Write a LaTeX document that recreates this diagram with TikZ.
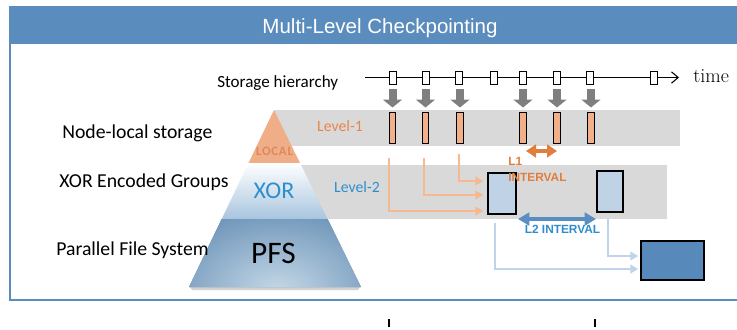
\documentclass[tikz,border=0pt]{standalone}
\usepackage{fontspec}
\usetikzlibrary{arrows.meta,calc}
\newfontfamily\carl{Carlito}
\newfontfamily\carlsp[LetterSpace=6]{Carlito}
\newfontfamily\lib{Liberation Sans}
\definecolor{hdrblue}{HTML}{5A8CBD}
\definecolor{bandgray}{HTML}{D9D9D9}
\definecolor{arrgray}{HTML}{7F7F7F}
\definecolor{barorange}{HTML}{F2B08A}
\definecolor{connorange}{HTML}{F5B890}
\definecolor{lvorange}{HTML}{E8864A}
\definecolor{l1orange}{HTML}{E07E3E}
\definecolor{localtxt}{HTML}{E0885A}
\definecolor{localfill}{HTML}{F0AE88}
\definecolor{lightblue}{HTML}{C0D3E6}
\definecolor{connblue}{HTML}{BFD4E8}
\definecolor{darkblue}{HTML}{5789BA}
\definecolor{l2blue}{HTML}{5A8DC0}
\definecolor{txtblue}{HTML}{2E8ECD}
\definecolor{xorbot}{HTML}{A8C5DE}
\definecolor{pfsin}{HTML}{C6D9E8}
\definecolor{pfsout}{HTML}{4F7DA8}
\begin{document}
\begin{tikzpicture}[x=0.75pt,y=-0.75pt,
  title/.style={text=white,font=\lib\fontsize{15.4}{18}\selectfont,inner sep=0pt},
  frame/.style={draw=hdrblue,line width=1.5pt},
  band/.style={fill=bandgray},
  lbl/.style={font=\carl\fontsize{14.8}{17}\selectfont,inner sep=0pt,anchor=base west},
  tbox/.style={draw=black,line width=0.6pt,fill=white,minimum width=5.25pt,minimum height=9.75pt,inner sep=0pt},
  tline/.style={draw=black,line width=0.8pt,-{Straight Barb[length=5pt,width=8.5pt]}},
  garrow/.style={draw=arrgray,line width=6pt,-{Triangle[length=6pt,width=14.25pt]}},
  obar/.style={draw=black,line width=0.7pt,fill=barorange,minimum width=4.9pt,minimum height=22.9pt,inner sep=0pt},
  brect/.style={draw=black,line width=1.1pt,fill=lightblue,inner sep=0pt},
  prect/.style={draw=black,line width=1.1pt,fill=darkblue,inner sep=0pt},
  oconn/.style={draw=connorange,line width=2pt,-{Triangle[length=6pt,width=6.5pt]}},
  bconn/.style={draw=connblue,line width=2pt,-{Triangle[length=6pt,width=6.5pt]}},
  l1arr/.style={draw=l1orange,line width=3.5pt,{Triangle[length=7.5pt,width=9.5pt]}-{Triangle[length=7.5pt,width=9.5pt]}},
  l2arr/.style={draw=l2blue,line width=3.5pt,{Triangle[length=8.5pt,width=9.5pt]}-{Triangle[length=8.5pt,width=9.5pt]}},
  ivtxt/.style={font=\lib\bfseries\fontsize{8.9}{12}\selectfont,inner sep=0pt}
]
\useasboundingbox (0,0) rectangle (737,329);
% frame and header
\fill[hdrblue] (9,6) rectangle (737,44);
\node[title] (title) at (380,28) {Multi-Level Checkpointing};
\draw[frame] (10,44) -- (10,300) -- (737,300);
% bottom ticks
\draw[black,line width=0.8pt] (389,319) -- (389,327);
\draw[black,line width=0.8pt] (595,319) -- (595,327);

% gray bands
\fill[band] (274,110) rectangle (680,146);
\fill[band] (295,165) rectangle (667,219);

% pyramid
\fill[black!18] (190,287) -- (360,287) -- (358,290) -- (192,290) -- cycle;
\fill[localfill] (274,110) -- (300,163) -- (248.5,163) -- cycle;
\shade[top color=white,bottom color=xorbot] (248.5,163) -- (300,163) -- (327.6,219) -- (221.7,219) -- cycle;
\begin{scope}
  \clip (221.7,219) -- (327.6,219) -- (361,287) -- (189,287) -- cycle;
  \fill[pfsout] (180,215) rectangle (370,292);
  \shade[inner color=pfsin,outer color=pfsout] (277,292) ellipse [x radius=120pt,y radius=85pt];
\end{scope}
\node[font=\carlsp\bfseries\fontsize{9.6}{11}\selectfont,text=localtxt,inner sep=0pt] (local) at (274.5,151.5) {LOCAL};
\node[font=\carl\fontsize{18}{20}\selectfont,text=txtblue,inner sep=0pt] (xor) at (274,191) {XOR};
\node[font=\carl\fontsize{23.5}{26}\selectfont,text=black,inner sep=0pt] (pfs) at (273.5,253) {PFS};

% left labels
\node[lbl,font=\carl\fontsize{12.8}{15}\selectfont] (sh) at (217,87) {Storage hierarchy};
\node[lbl] (nl) at (62,138) {Node-local storage};
\node[lbl] (xg) at (59,187) {XOR Encoded Groups};
\node[lbl] (pf) at (56,255) {Parallel File System};

% level labels
\node[font=\carl\fontsize{11.8}{14}\selectfont,text=lvorange,inner sep=0pt] (lv1) at (340,126) {Level-1};
\node[font=\carl\fontsize{11.8}{14}\selectfont,text=txtblue,inner sep=0pt] (lv2) at (357,187) {Level-2};

% timeline
\coordinate (tl0) at (365,77.5);
\coordinate (tlend) at (679,77.5);
\draw[tline] (tl0) -- (tlend);
\foreach \i/\x in {1/393,2/426,3/459,4/494,5/523,6/557,7/590,8/654}
  \node[tbox] (t\i) at (\x,77.5) {};
\node[font=\fontsize{15}{18}\selectfont,inner sep=0pt,anchor=base west] (time) at (693,82) {time};

% gray arrows and level-1 bars
\foreach \i/\x in {1/392.5,2/425.5,3/460,4/523,5/557,6/591}{
  \coordinate (ga\i) at (\x,89);
  \coordinate (gb\i) at (\x,107.5);
  \draw[garrow] (ga\i) -- (gb\i);
  \node[obar] (b\i) at (\x,128) {};
}

% level-2 rects
\node[brect,minimum width=21pt,minimum height=30.75pt] (r1) at (502,193.5) {};
\node[brect,minimum width=19.5pt,minimum height=30.75pt] (r2) at (610,191.5) {};
% PFS rect
\node[prect,minimum width=47.25pt,minimum height=29.25pt] (pr) at (672.5,260.5) {};

% L1 interval
\coordinate (l1a) at (526,151);
\coordinate (l1b) at (557,151);
\draw[l1arr] (l1a) -- (l1b);
\node[ivtxt,text=l1orange,align=left,anchor=north west] (l1t) at (508,157) {L1\\INTERVAL};

% orange connectors
\coordinate (o1) at (389,158);
\coordinate (o2) at (424,158);
\coordinate (o3) at (459,154);
\draw[oconn] (o1) |- ($(r1.west)+(-4,17.5)$);
\draw[oconn] (o2) |- ($(r1.west)+(-4,1.5)$);
\draw[oconn] (o3) |- ($(r1.west)+(-4,-12.5)$);

% L2 interval
\coordinate (l2a) at (518,219);
\coordinate (l2b) at (596,219);
\draw[l2arr] (l2a) -- (l2b);
\node[ivtxt,text=txtblue] (l2t) at (562.5,229.5) {L2 INTERVAL};

% blue connectors
\coordinate (c1) at (495,223);
\coordinate (c2) at (608,219);
\draw[bconn] (c1) |- ($(pr.west)+(-2,8.5)$);
\draw[bconn] (c2) |- ($(pr.west)+(-2,-4.5)$);
\end{tikzpicture}
\end{document}
